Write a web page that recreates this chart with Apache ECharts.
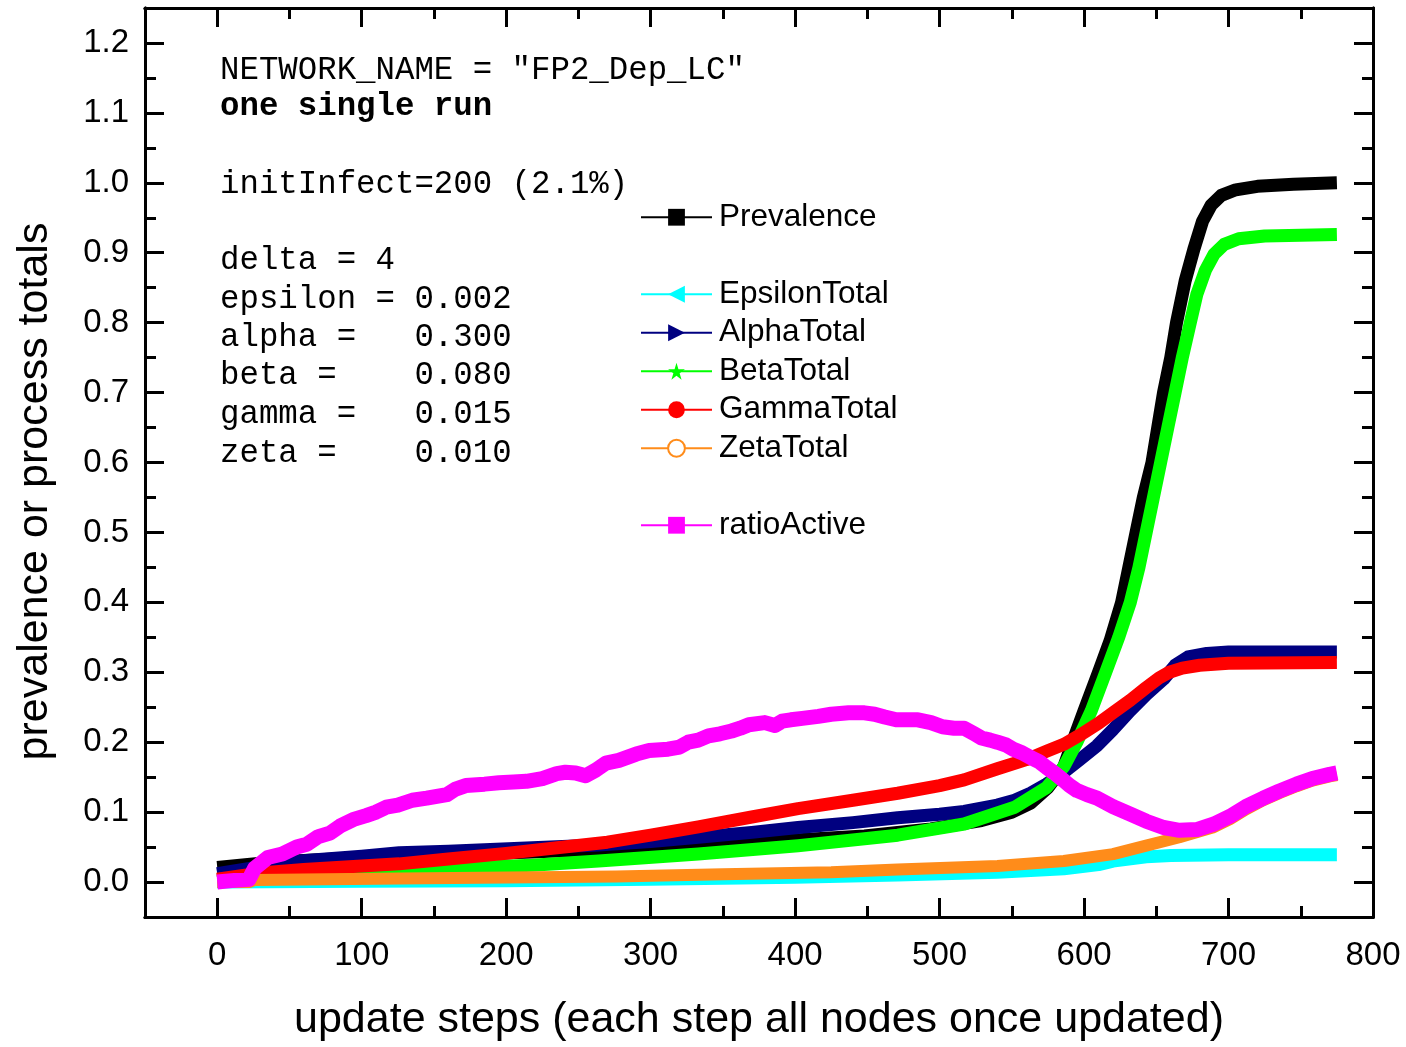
<!DOCTYPE html>
<html>
<head>
<meta charset="utf-8">
<script src="https://cdn.jsdelivr.net/npm/echarts@6/dist/echarts.min.js"></script>
<style>
  html, body { margin: 0; padding: 0; background: #fff; }
  #chart { width: 1406px; height: 1047px; }
</style>
</head>
<body>
<div id="chart"></div>
<script>
// data: [update step, value]
const prevalence = [[0,0.021],[30,0.027],[60,0.031],[103,0.035],[150,0.038],[218,0.043],[264,0.047],[300,0.05],[356,0.055],[400,0.06],[448,0.066],[494,0.076],[529,0.088],[550,0.1],[563,0.113],[575,0.135],[586,0.165],[592,0.2],[600,0.245],[610,0.3],[618,0.345],[626,0.4],[631,0.45],[636,0.5],[641,0.55],[647,0.6],[651,0.65],[655,0.7],[660,0.75],[664,0.8],[670,0.86],[676,0.905],[682,0.945],[688,0.968],[695,0.982],[705,0.99],[720,0.995],[745,0.998],[775,1.0]];
const epsilonTotal = [[0,0.0],[100,0.001],[200,0.002],[300,0.004],[400,0.007],[471,0.01],[540,0.014],[586,0.019],[610,0.025],[620,0.03],[643,0.036],[660,0.038],[700,0.039],[775,0.039]];
const alphaTotal = [[0,0.012],[30,0.022],[57,0.03],[100,0.037],[126,0.042],[160,0.044],[218,0.049],[264,0.053],[300,0.058],[333,0.064],[370,0.071],[402,0.078],[440,0.085],[471,0.092],[500,0.097],[517,0.101],[540,0.11],[552,0.117],[563,0.127],[574,0.14],[586,0.157],[597,0.175],[609,0.195],[620,0.218],[632,0.245],[643,0.268],[655,0.29],[663,0.31],[672,0.322],[685,0.327],[700,0.329],[775,0.329]];
const betaTotal = [[0,0.003],[34,0.01],[126,0.017],[218,0.024],[264,0.03],[333,0.04],[402,0.052],[471,0.067],[517,0.083],[552,0.107],[574,0.135],[586,0.165],[595,0.2],[605,0.245],[615,0.3],[624,0.35],[632,0.4],[638,0.45],[643,0.5],[648,0.55],[653,0.6],[658,0.65],[663,0.7],[668,0.75],[673,0.795],[678,0.84],[684,0.875],[690,0.898],[697,0.912],[707,0.92],[725,0.924],[775,0.926]];
const gammaTotal = [[0,0.004],[30,0.013],[60,0.018],[100,0.023],[126,0.026],[160,0.033],[200,0.041],[240,0.05],[270,0.057],[300,0.067],[333,0.079],[370,0.093],[402,0.105],[440,0.117],[471,0.127],[500,0.138],[517,0.146],[540,0.162],[560,0.175],[574,0.187],[586,0.197],[597,0.21],[610,0.227],[620,0.242],[632,0.26],[643,0.278],[652,0.292],[659,0.3],[668,0.306],[680,0.31],[700,0.313],[775,0.314]];
const zetaTotal = [[0,0.0],[22,0.0],[26,0.003],[126,0.005],[276,0.008],[350,0.011],[425,0.014],[471,0.018],[540,0.023],[586,0.03],[620,0.04],[643,0.052],[666,0.064],[689,0.078],[701,0.09],[712,0.104],[724,0.117],[735,0.127],[747,0.137],[758,0.145],[770,0.151],[775,0.153]];
const ratioActive = [[0,0.0],[10,0.002],[22,0.004],[26,0.02],[35,0.035],[45,0.04],[55,0.05],[62,0.054],[70,0.065],[78,0.07],[85,0.08],[95,0.09],[103,0.095],[110,0.1],[117,0.107],[125,0.11],[135,0.117],[145,0.12],[159,0.125],[165,0.133],[172,0.138],[185,0.14],[195,0.142],[205,0.143],[214,0.144],[225,0.148],[235,0.155],[241,0.157],[248,0.156],[255,0.152],[262,0.16],[269,0.17],[278,0.174],[290,0.183],[299,0.188],[312,0.19],[320,0.193],[326,0.2],[333,0.203],[340,0.209],[348,0.212],[356,0.216],[362,0.22],[368,0.225],[379,0.228],[386,0.224],[391,0.23],[397,0.232],[405,0.234],[416,0.237],[425,0.24],[437,0.242],[448,0.242],[455,0.24],[462,0.236],[470,0.232],[485,0.232],[494,0.228],[502,0.222],[510,0.22],[517,0.22],[524,0.212],[529,0.206],[535,0.203],[540,0.2],[546,0.196],[551,0.19],[557,0.185],[563,0.178],[569,0.172],[574,0.164],[580,0.155],[586,0.145],[590,0.138],[595,0.131],[602,0.125],[609,0.12],[620,0.108],[632,0.097],[643,0.087],[655,0.078],[666,0.074],[678,0.075],[690,0.083],[701,0.094],[712,0.108],[724,0.12],[735,0.13],[747,0.14],[758,0.148],[770,0.154],[775,0.156]];

const xMajor = [0, 100, 200, 300, 400, 500, 600, 700, 800];
const xMinor = [50, 150, 250, 350, 450, 550, 650, 750];
const yMajor = [0, 0.1, 0.2, 0.3, 0.4, 0.5, 0.6, 0.7, 0.8, 0.9, 1.0, 1.1, 1.2];
const yMinor = [-0.05, 0.05, 0.15, 0.25, 0.35, 0.45, 0.55, 0.65, 0.75, 0.85, 0.95, 1.05, 1.15, 1.25];

const noteLines = [
  'NETWORK_NAME = "FP2_Dep_LC"',
  'one single run',
  'initInfect=200 (2.1%)',
  'delta = 4',
  'epsilon = 0.002',
  'alpha =   0.300',
  'beta =    0.080',
  'gamma =   0.015',
  'zeta =    0.010'
];
const noteY = [68, 105, 182, 258, 297, 335, 373, 412, 451];

const SANS = '"Liberation Sans", Arial, sans-serif';
const MONO = '"Liberation Mono", "Courier New", monospace';
const STAR = 'path://M50,0 L61,35 L98,35 L68,57 L79,91 L50,70 L21,91 L32,57 L2,35 L39,35 Z';

const chart = echarts.init(document.getElementById('chart'), null, { renderer: 'canvas' });

function xAxisDef(pos, ticks, len, labels) {
  return {
    type: 'value', position: pos, min: -50, max: 800, interval: 50,
    axisLine: { show: true, onZero: false, lineStyle: { color: '#000', width: 3 } },
    axisTick: { show: true, inside: true, length: len, customValues: ticks, lineStyle: { color: '#000', width: 3 } },
    axisLabel: labels ? { show: true, customValues: xMajor, fontSize: 33, fontFamily: SANS, color: '#000', margin: 22 } : { show: false },
    splitLine: { show: false }
  };
}
function yAxisDef(pos, ticks, len, labels) {
  return {
    type: 'value', position: pos, min: -0.05, max: 1.25, interval: 0.05,
    axisLine: { show: true, onZero: false, lineStyle: { color: '#000', width: 3 } },
    axisTick: { show: true, inside: true, length: len, customValues: ticks, lineStyle: { color: '#000', width: 3 } },
    axisLabel: labels ? { show: true, customValues: yMajor, formatter: v => v.toFixed(1), fontSize: 33, fontFamily: SANS, color: '#000', margin: 16 } : { show: false },
    splitLine: { show: false }
  };
}

const xAxes = [
  xAxisDef('bottom', xMajor, 19, true),
  xAxisDef('bottom', xMinor, 11, false),
  xAxisDef('top', xMajor, 19, false),
  xAxisDef('top', xMinor, 11, false)
];
xAxes[0].name = 'update steps (each step all nodes once updated)';
xAxes[0].nameLocation = 'middle';
xAxes[0].nameGap = 82;
xAxes[0].nameTextStyle = { fontSize: 43, fontFamily: SANS, color: '#000' };

const yAxes = [
  yAxisDef('left', yMajor, 19, true),
  yAxisDef('left', yMinor, 11, false),
  yAxisDef('right', yMajor, 19, false),
  yAxisDef('right', yMinor, 11, false)
];
yAxes[0].name = 'prevalence or process totals';
yAxes[0].nameLocation = 'middle';
yAxes[0].nameRotate = 90;
yAxes[0].nameGap = 88;
yAxes[0].nameTextStyle = { fontSize: 43, fontFamily: SANS, color: '#000', padding: [0, 58, 0, 0] };

function line(name, data, color, symbol, rotate, width) {
  return {
    name: name, type: 'line', data: data, xAxisIndex: 0, yAxisIndex: 0,
    showSymbol: false, symbol: symbol, symbolRotate: rotate || 0,
    itemStyle: { color: color },
    lineStyle: { color: color, width: width, join: 'round' },
    emphasis: { disabled: true }
  };
}

const legendBase = {
  orient: 'vertical', left: 640, padding: 0, itemGap: 0,
  itemWidth: 71, itemHeight: 21, selectedMode: false,
  lineStyle: { width: 2 },
  textStyle: { fontSize: 31.5, fontFamily: SANS, color: '#000', lineHeight: 38.5, padding: [0, 0, 0, 2] }
};

chart.setOption({
  animation: false,
  backgroundColor: '#fff',
  grid: { left: 145, right: 33, top: 8, bottom: 127, containLabel: false },
  xAxis: xAxes,
  yAxis: yAxes,
  legend: [
    Object.assign({}, legendBase, { top: 198, data: ['Prevalence'] }),
    Object.assign({}, legendBase, { top: 275, data: ['EpsilonTotal', 'AlphaTotal', 'BetaTotal', 'GammaTotal', 'ZetaTotal'] }),
    Object.assign({}, legendBase, { top: 506, data: ['ratioActive'] })
  ],
  graphic: noteLines.map((t, i) => ({
    type: 'text', left: 220, top: noteY[i] - 14,
    style: { text: t, fontSize: 32.4, fontFamily: MONO, fontWeight: i === 1 ? 'bold' : 'normal', fill: '#000' }
  })),
  series: [
    line('Prevalence', prevalence, '#000000', 'rect', 0, 13),
    line('EpsilonTotal', epsilonTotal, '#00ffff', 'triangle', 90, 13),
    line('AlphaTotal', alphaTotal, '#000080', 'triangle', -90, 13),
    line('BetaTotal', betaTotal, '#00ff00', STAR, 0, 13),
    line('GammaTotal', gammaTotal, '#ff0000', 'circle', 0, 13),
    line('ZetaTotal', zetaTotal, '#ff8c1a', 'emptyCircle', 0, 12),
    line('ratioActive', ratioActive, '#ff00ff', 'rect', 0, 15)
  ]
});
</script>
</body>
</html>
